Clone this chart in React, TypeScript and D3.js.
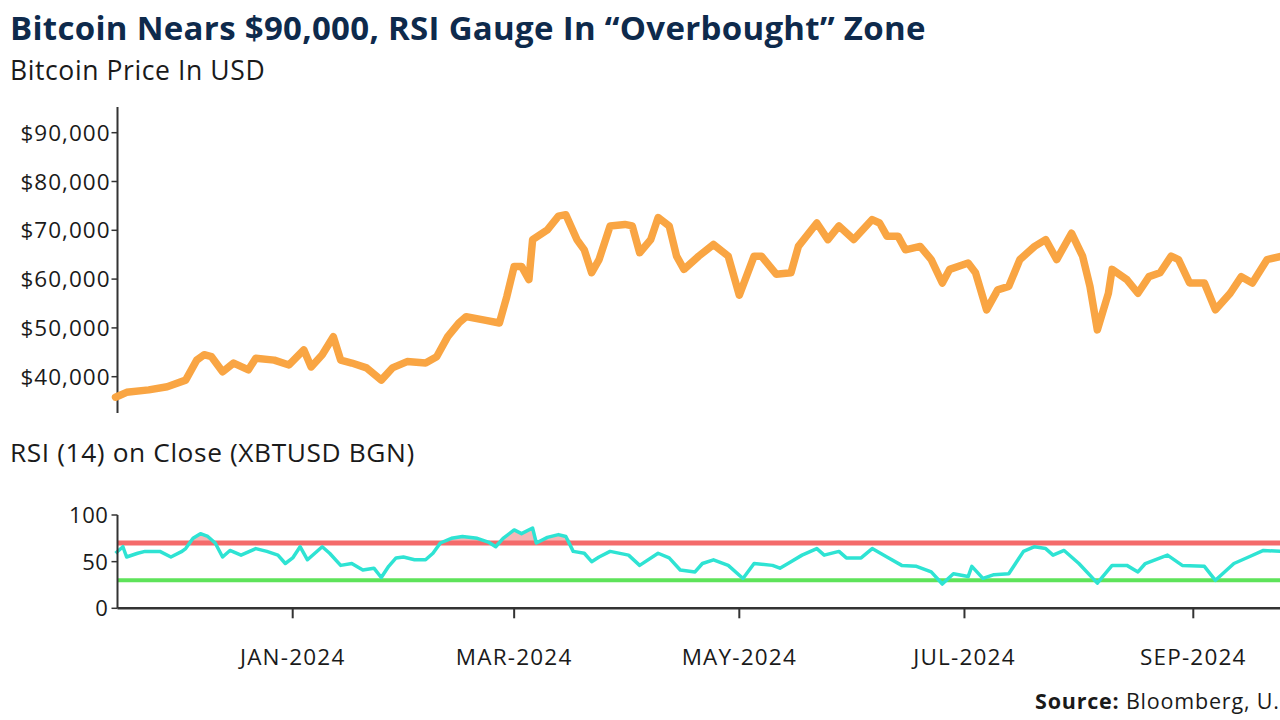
import React from "react";
import * as d3 from "d3";

// ---------- DATA ----------
const priceDates = [
  "2023-11-14","2023-11-17","2023-11-23","2023-11-28","2023-12-03","2023-12-06","2023-12-08","2023-12-10",
  "2023-12-13","2023-12-16","2023-12-20","2023-12-22","2023-12-27","2023-12-31","2024-01-04","2024-01-06",
  "2024-01-09","2024-01-12","2024-01-14","2024-01-17","2024-01-21","2024-01-25","2024-01-28","2024-02-01",
  "2024-02-06","2024-02-09","2024-02-12","2024-02-15","2024-02-17","2024-02-22","2024-02-26","2024-02-28",
  "2024-03-01","2024-03-03","2024-03-05","2024-03-06","2024-03-10","2024-03-13","2024-03-15","2024-03-18",
  "2024-03-20","2024-03-22","2024-03-24","2024-03-27","2024-03-31","2024-04-02","2024-04-04","2024-04-07",
  "2024-04-09","2024-04-12","2024-04-14","2024-04-16","2024-04-20","2024-04-24","2024-04-28","2024-05-01",
  "2024-05-05","2024-05-07","2024-05-11","2024-05-15","2024-05-17","2024-05-22","2024-05-25","2024-05-28",
  "2024-06-01","2024-06-06","2024-06-08","2024-06-10","2024-06-13","2024-06-15","2024-06-19","2024-06-22",
  "2024-06-25","2024-06-27","2024-07-02","2024-07-04","2024-07-07","2024-07-10","2024-07-13","2024-07-16",
  "2024-07-20","2024-07-23","2024-07-26","2024-07-30","2024-08-02","2024-08-04","2024-08-06","2024-08-09",
  "2024-08-10","2024-08-14","2024-08-17","2024-08-20","2024-08-23","2024-08-26","2024-08-28","2024-08-31",
  "2024-09-04","2024-09-07","2024-09-11","2024-09-14","2024-09-17","2024-09-21","2024-09-25"
];
const priceValues = [
  35800,36800,37300,37950,39300,43400,44500,44100,
  41000,42800,41400,43800,43400,42400,45500,42000,
  44500,48200,43400,42800,41800,39300,41800,43100,
  42800,44100,48200,51000,52300,51600,51000,56400,
  62600,62600,59900,68100,70100,72900,73200,68100,
  66000,61300,64000,70900,71200,70900,65400,68100,
  72600,70900,64700,62000,64700,67100,64700,56700,
  64700,64700,61000,61300,66700,71500,68100,70900,
  68100,72200,71500,68800,68800,66000,66700,64000,
  59200,62000,63300,61300,53700,57800,58500,64000,
  66700,68100,64000,69400,64700,58500,49600,57100,
  62000,59900,57100,60500,61300,64700,64000,59200,
  59200,53700,57100,60500,59200,64000,64700
];

const rsiDates = [
  "2023-11-14","2023-11-16","2023-11-17","2023-11-20","2023-11-22","2023-11-26","2023-11-29","2023-12-02",
  "2023-12-03","2023-12-05","2023-12-07","2023-12-09","2023-12-11","2023-12-13","2023-12-15","2023-12-18",
  "2023-12-22","2023-12-25","2023-12-28","2023-12-30","2024-01-01","2024-01-03","2024-01-05","2024-01-07",
  "2024-01-09","2024-01-11","2024-01-14","2024-01-17","2024-01-20","2024-01-23","2024-01-25","2024-01-27",
  "2024-01-29","2024-01-31","2024-02-03","2024-02-06","2024-02-08","2024-02-10","2024-02-13","2024-02-16",
  "2024-02-20","2024-02-23","2024-02-25","2024-02-27","2024-03-01","2024-03-03","2024-03-06","2024-03-07",
  "2024-03-10","2024-03-13","2024-03-15","2024-03-17","2024-03-20","2024-03-22","2024-03-24","2024-03-27",
  "2024-04-01","2024-04-04","2024-04-09","2024-04-12","2024-04-15","2024-04-19","2024-04-21","2024-04-24",
  "2024-04-28","2024-05-02","2024-05-05","2024-05-10","2024-05-12","2024-05-15","2024-05-18","2024-05-22",
  "2024-05-24","2024-05-28","2024-05-30","2024-06-03","2024-06-06","2024-06-10","2024-06-14","2024-06-18",
  "2024-06-22","2024-06-25","2024-06-28","2024-07-02","2024-07-03","2024-07-06","2024-07-09","2024-07-13",
  "2024-07-17","2024-07-20","2024-07-23","2024-07-25","2024-07-28","2024-08-01","2024-08-06","2024-08-10",
  "2024-08-14","2024-08-17","2024-08-19","2024-08-25","2024-08-29","2024-09-04","2024-09-07","2024-09-12",
  "2024-09-16","2024-09-20","2024-09-25"
];
const rsiValues = [
  59,66,55,59,61,61,55,61,
  64,75,80,77,70,55,62,57,
  64,61,57,48,54,66,52,59,
  66,59,46,48,41,43,33,45,
  54,55,52,52,59,70,75,77,
  75,71,66,75,84,80,86,70,
  76,79,77,61,59,50,55,61,
  57,46,59,54,41,39,48,52,
  46,32,48,46,43,50,57,64,
  57,61,54,54,64,55,46,45,
  39,26,37,34,45,32,36,37,
  61,66,64,57,62,48,27,46,
  46,39,48,57,46,45,30,48,
  55,62,61
];

const priceTicks = [40000, 50000, 60000, 70000, 80000, 90000];
const rsiTicks = [0, 50, 100];
const xTickDates = ["2024-01-01", "2024-03-01", "2024-05-01", "2024-07-01", "2024-09-01"];
const overbought = 70;
const oversold = 30;

const TITLE = "Bitcoin Nears $90,000, RSI Gauge In \u201COverbought\u201D Zone";
const SUBTITLE = "Bitcoin Price In USD";
const RSI_TITLE = "RSI (14) on Close (XBTUSD BGN)";
const SOURCE_LABEL = "Source:";
const SOURCE_TEXT = " Bloomberg, U.";

// ---------- CHART ----------
const W = 1280;
const H = 720;
const FONT = "'Open Sans', 'Noto Sans', sans-serif";

export default function App() {
  const parse = d3.timeParse("%Y-%m-%d");
  const price = priceDates.map((d, i) => ({ date: parse(d)!, v: priceValues[i] }));
  const rsi = rsiDates.map((d, i) => ({ date: parse(d)!, v: rsiValues[i] }));

  const x = d3
    .scaleTime()
    .domain([parse("2024-01-01")!, parse("2024-09-01")!])
    .range([292.7, 1193.3]);
  const xLeft = 117.5;

  const yP = d3.scaleLinear().domain([40000, 90000]).range([376.7, 132.7]);
  const yR = d3.scaleLinear().domain([0, 100]).range([608.3, 515]);

  const priceLine = d3
    .line<{ date: Date; v: number }>()
    .x((d) => x(d.date))
    .y((d) => yP(d.v));
  const rsiLine = d3
    .line<{ date: Date; v: number }>()
    .x((d) => x(d.date))
    .y((d) => yR(d.v));
  const obArea = d3
    .area<{ date: Date; v: number }>()
    .x((d) => x(d.date))
    .y0(yR(overbought))
    .y1((d) => yR(Math.max(d.v, overbought)));

  const axisColor = "#333";
  const textColor = "#1a1a1a";

  return (
    <div style={{ position: "absolute", left: 0, top: 0, width: W, height: H, background: "#fff" }}>
      <svg width={W} height={H} style={{ display: "block" }} fontFamily={FONT}>
        <rect width={W} height={H} fill="#fff" />
        <text x={10} y={40} fontSize={33} fontWeight={700} fill="#0e2a4c" letterSpacing={0.3}>
          {TITLE}
        </text>
        <text x={10} y={80} fontSize={26.5} fill={textColor} letterSpacing={0.6}>
          {SUBTITLE}
        </text>

        {/* Price panel */}
        <line x1={xLeft} x2={xLeft} y1={107} y2={413} stroke={axisColor} strokeWidth={2} />
        {priceTicks.map((t) => (
          <g key={t}>
            <line x1={xLeft - 6} x2={xLeft} y1={yP(t)} y2={yP(t)} stroke={axisColor} strokeWidth={1.5} />
            <text x={xLeft - 7} y={yP(t)} dy="0.36em" textAnchor="end" fontSize={22.5} fill={textColor} letterSpacing={1}>
              {d3.format("$,")(t)}
            </text>
          </g>
        ))}
        <path
          d={priceLine(price) || ""}
          fill="none"
          stroke="#f9a543"
          strokeWidth={7.5}
          strokeLinejoin="round"
          strokeLinecap="round"
        />

        {/* RSI panel */}
        <text x={10} y={462} fontSize={26.3} fill={textColor} letterSpacing={0.6}>
          {RSI_TITLE}
        </text>
        <path d={obArea(rsi) || ""} fill="#f6a9a9" opacity={0.85} />
        <line x1={xLeft} x2={W} y1={yR(overbought)} y2={yR(overbought)} stroke="#f46b6b" strokeWidth={5} />
        <line x1={xLeft} x2={W} y1={yR(oversold)} y2={yR(oversold)} stroke="#5ee35a" strokeWidth={4} />
        <path
          d={rsiLine(rsi) || ""}
          fill="none"
          stroke="#2ee3d3"
          strokeWidth={3.5}
          strokeLinejoin="round"
        />
        <line x1={xLeft} x2={xLeft} y1={yR(100)} y2={yR(0)} stroke={axisColor} strokeWidth={2} />
        {rsiTicks.map((t) => (
          <g key={t}>
            <line x1={xLeft - 6} x2={xLeft} y1={yR(t)} y2={yR(t)} stroke={axisColor} strokeWidth={1.5} />
            <text x={xLeft - 9} y={yR(t)} dy="0.36em" textAnchor="end" fontSize={22} fill={textColor} letterSpacing={0.6}>
              {t}
            </text>
          </g>
        ))}
        <line x1={xLeft} x2={W} y1={yR(0)} y2={yR(0)} stroke={axisColor} strokeWidth={2.5} />
        {xTickDates.map((s) => {
          const d = parse(s)!;
          return (
            <g key={s}>
              <line x1={x(d)} x2={x(d)} y1={yR(0)} y2={yR(0) + 10} stroke={axisColor} strokeWidth={2} />
              <text x={x(d)} y={665} textAnchor="middle" fontSize={22.5} fill={textColor} letterSpacing={1.2}>
                {d3.timeFormat("%b-%Y")(d).toUpperCase()}
              </text>
            </g>
          );
        })}

        <text x={1035} y={709} fontSize={21.5} fill={textColor} letterSpacing={0.8}>
          <tspan fontWeight={700}>{SOURCE_LABEL}</tspan>
          <tspan>{SOURCE_TEXT}</tspan>
        </text>
      </svg>
    </div>
  );
}
